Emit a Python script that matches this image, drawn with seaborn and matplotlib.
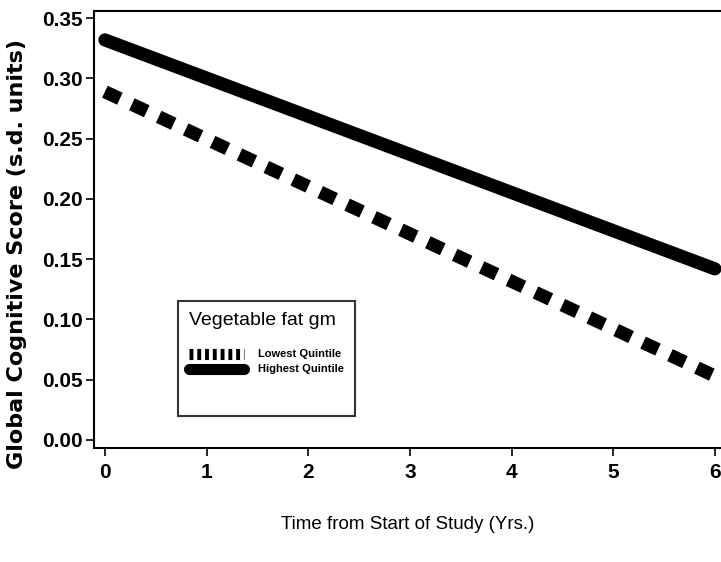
import matplotlib
matplotlib.use("Agg")
import matplotlib.pyplot as plt
import seaborn as sns
import pandas as pd
from matplotlib.lines import Line2D

years = [0, 6]
lowest_quintile = [0.289, 0.053]
highest_quintile = [0.332, 0.142]
series_names = ["Lowest Quintile", "Highest Quintile"]
x_ticks = [0, 1, 2, 3, 4, 5, 6]
y_ticks = [0.00, 0.05, 0.10, 0.15, 0.20, 0.25, 0.30, 0.35]

sns.set_theme(style="ticks", rc={"text.color": "black", "axes.labelcolor": "black",
                                 "xtick.color": "black", "ytick.color": "black",
                                 "axes.edgecolor": "black"})
plt.rcParams['font.family'] = ['Liberation Sans Narrow', 'Liberation Sans', 'DejaVu Sans']

df = pd.DataFrame({
    "Year": years * 2,
    "Score": lowest_quintile + highest_quintile,
    "Group": [series_names[0]] * len(years) + [series_names[1]] * len(years),
})

fig = plt.figure(figsize=(7.21, 5.62), dpi=100)
ax = fig.add_axes([0.130, 0.203, 0.870, 0.777])

sns.lineplot(data=df, x="Year", y="Score", hue="Group", style="Group",
             palette={series_names[0]: "black", series_names[1]: "black"},
             dashes={series_names[0]: (1.25, 1.0), series_names[1]: ""},
             linewidth=9.5, legend=False, ax=ax)
for ln in ax.get_lines():
    ln.set_solid_capstyle("round")
    ln.set_dash_capstyle("butt")

ax.set_xlim(-0.11, 6.06)
ax.set_ylim(-0.0066, 0.3558)
ax.set_xticks(x_ticks)
ax.set_xticklabels([str(t) for t in x_ticks], fontsize=15, fontweight="bold")
ax.set_yticks(y_ticks)
ax.set_yticklabels([f"{t:.2f}" for t in y_ticks], fontsize=15, fontweight="bold")
ax.tick_params(axis="both", direction="out", length=6, width=1.2, color="black")
ax.tick_params(axis="x", pad=5)
ax.tick_params(axis="y", pad=2)
for s in ["left", "top", "bottom"]:
    ax.spines[s].set_linewidth(1.5)
    ax.spines[s].set_color("black")
ax.spines["right"].set_visible(False)

ax.set_xlabel("Time from Start of Study (Yrs.)", fontsize=13.5, labelpad=24)
ax.set_ylabel("Global Cognitive Score (s.d. units)", fontsize=16, fontweight="bold",
              family=['DejaVu Sans'])
ax.yaxis.set_label_coords(-0.106, 0.443)

blank = Line2D([0], [0], color="none", lw=0)
handles = [blank,
           Line2D([0], [0], color="black", lw=8, linestyle=(0, (0.35, 0.35))),
           Line2D([0], [0], color="black", lw=8, solid_capstyle="round"),
           blank, blank]
leg = ax.legend(handles, [""] + series_names + ["", ""], title="Vegetable fat gm",
                loc="lower left", bbox_to_anchor=(0.125, 0.0615),
                fontsize=8, title_fontsize=14, frameon=True, fancybox=False,
                edgecolor="black", handlelength=5.0, handletextpad=1.2,
                labelspacing=0.45, borderpad=1.0)
leg._legend_box.align = "left"
leg.get_frame().set_linewidth(1.5)
for t in leg.get_texts():
    t.set_fontweight("bold")

fig.savefig("out.png", dpi=100)
